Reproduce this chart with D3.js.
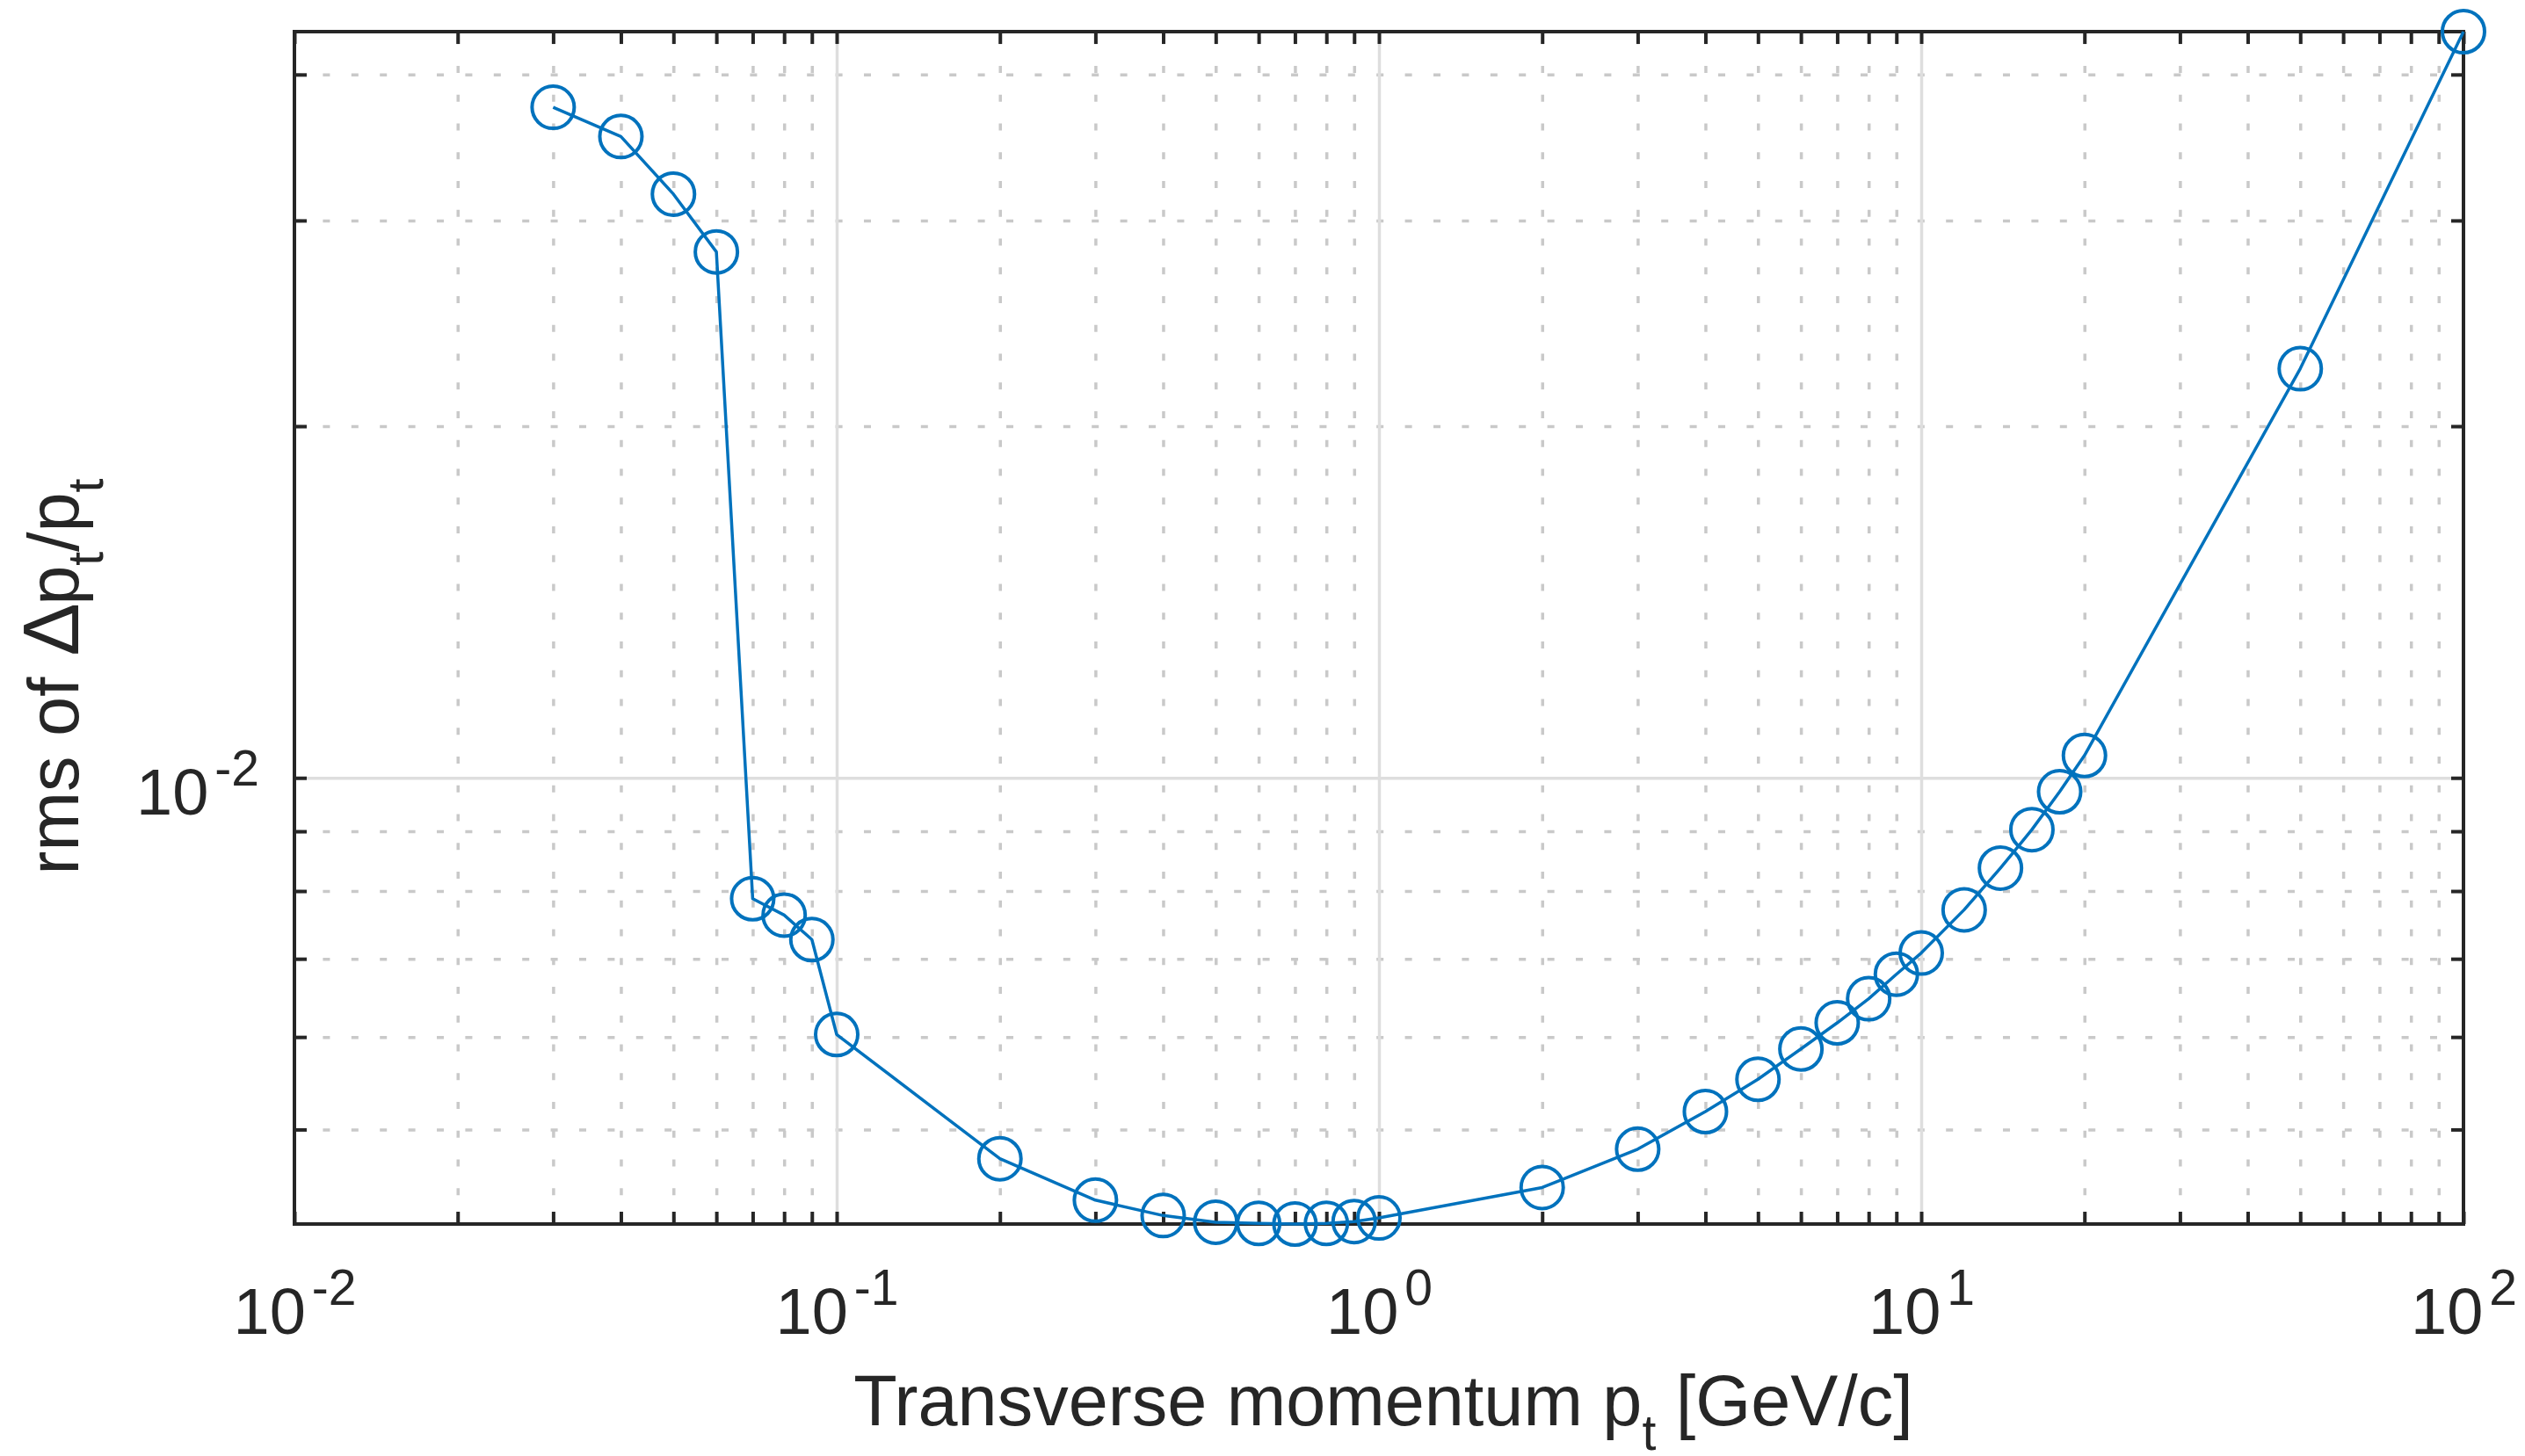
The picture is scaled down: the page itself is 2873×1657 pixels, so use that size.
<!DOCTYPE html>
<html>
<head>
<meta charset="utf-8">
<script src="https://cdn.jsdelivr.net/npm/d3@7"></script>
<style>
  html, body { margin: 0; padding: 0; background: #ffffff; }
  svg { display: block; }
  text { font-family: "Liberation Sans", Arial, Helvetica, sans-serif; fill: #262626; }
</style>
</head>
<body>
<svg id="chart" width="2873" height="1657"></svg>
<script>
// ---- data ----
const ptValues = [0.03, 0.04, 0.05, 0.06, 0.07, 0.08, 0.09, 0.1, 0.2, 0.3, 0.4, 0.5, 0.6, 0.7, 0.8, 0.9, 1,
                  2, 3, 4, 5, 6, 7, 8, 9, 10, 12, 14, 16, 18, 20, 50, 100];
const rmsValues = [0.0375, 0.0354, 0.0316, 0.0282, 0.00788, 0.00763, 0.00727, 0.00603, 0.00472, 0.00435,
                   0.00422, 0.004165, 0.004155, 0.00415, 0.004155, 0.00417, 0.0042,
                   0.00446, 0.00481, 0.00518, 0.00552, 0.00586, 0.00617, 0.00647, 0.00679, 0.00708,
                   0.00771, 0.00837, 0.00903, 0.00973, 0.01045, 0.0224, 0.04353];
const xDomain = [0.01, 100];
const xMajorTicks = [0.01, 0.1, 1, 10, 100];
const xTickExponents = ["-2", "-1", "0", "1", "2"];
const yMajorTicks = [0.01];
const yTickExponents = ["-2"];
const xLabelParts = [["Transverse momentum p", ""], ["t", "sub"], [" [GeV/c]", ""]];
const yLabelParts = [["rms of ", ""], ["\u2206", "big"], ["p", ""], ["t", "sub"], ["/p", ""], ["t", "sub"]];

// ---- layout ----
const L = 335, R = 2803, T = 36, B = 1393;
const W = R - L, H = B - T;
const axisColor = "#262626";
const lineColor = "#0072BD";
const tickFont = 74, supFont = 57, labelFont = 81, subFont = 57, bigFont = 90;

const svg = d3.select("#chart");

const x = d3.scaleLog().domain(xDomain).range([L, R]);
const y = d3.scaleLog().domain(d3.extent(rmsValues)).range([B, T]);

// minor tick values from the scales
function minorLog(domain) {
  const out = [];
  const lo = Math.floor(Math.log10(domain[0])), hi = Math.ceil(Math.log10(domain[1]));
  for (let e = lo; e <= hi; e++) {
    for (let k = 2; k <= 9; k++) {
      const v = k * Math.pow(10, e);
      if (v >= domain[0] * 0.9999 && v <= domain[1] * 1.0001) out.push(+v.toPrecision(6));
    }
  }
  return out;
}
const xMinor = minorLog(x.domain());
const yMinor = minorLog(y.domain());
const xMajorIn = xMajorTicks.filter(v => v > xDomain[0] && v < xDomain[1]);
const yMajorIn = yMajorTicks.filter(v => v > y.domain()[0] && v < y.domain()[1]);

// ---- grid ----
const gridG = svg.append("g");
function styleGrid(g, color, dash) {
  g.select(".domain").remove();
  g.selectAll(".tick text").remove();
  g.selectAll(".tick line").attr("stroke", color).attr("stroke-width", 3.5)
    .attr("stroke-dasharray", dash);
}
gridG.append("g").attr("transform", `translate(0,${B})`)
  .call(d3.axisBottom(x).tickValues(xMinor).tickSize(-H).tickFormat(""))
  .call(g => styleGrid(g, "#c9c9c9", "8 24.75"));
gridG.append("g").attr("transform", `translate(${L},0)`)
  .call(d3.axisLeft(y).tickValues(yMinor).tickSize(-W).tickFormat(""))
  .call(g => styleGrid(g, "#c9c9c9", "8 24.4"))
  .call(g => g.selectAll(".tick line").attr("x1", 0).attr("x2", W));
gridG.append("g").attr("transform", `translate(0,${B})`)
  .call(d3.axisBottom(x).tickValues(xMajorIn).tickSize(-H).tickFormat(""))
  .call(g => styleGrid(g, "#dedede", null));
gridG.append("g").attr("transform", `translate(${L},0)`)
  .call(d3.axisLeft(y).tickValues(yMajorIn).tickSize(-W).tickFormat(""))
  .call(g => styleGrid(g, "#dedede", null));

// ---- ticks (inside, on all four sides) ----
const tickLen = 14;
function styleTicks(g) {
  g.select(".domain").remove();
  g.selectAll(".tick text").remove();
  g.selectAll(".tick line").attr("stroke", axisColor).attr("stroke-width", 4);
}
const xAllTicks = xMajorTicks.concat(xMinor);
const yAllTicks = yMajorIn.concat(yMinor);
svg.append("g").attr("transform", `translate(0,${B})`)
  .call(d3.axisBottom(x).tickValues(xAllTicks).tickSize(-tickLen).tickFormat("")).call(styleTicks);
svg.append("g").attr("transform", `translate(0,${T})`)
  .call(d3.axisTop(x).tickValues(xAllTicks).tickSize(-tickLen).tickFormat("")).call(styleTicks);
svg.append("g").attr("transform", `translate(${L},0)`)
  .call(d3.axisLeft(y).tickValues(yAllTicks).tickSize(-tickLen).tickFormat("")).call(styleTicks);
svg.append("g").attr("transform", `translate(${R},0)`)
  .call(d3.axisRight(y).tickValues(yAllTicks).tickSize(-tickLen).tickFormat("")).call(styleTicks);

// box
svg.append("rect").attr("x", L).attr("y", T).attr("width", W).attr("height", H)
  .attr("fill", "none").attr("stroke", axisColor).attr("stroke-width", 4);

// ---- tick labels ----
const xLab = svg.append("g").attr("transform", `translate(0,${B})`)
  .call(d3.axisBottom(x).tickValues(xMajorTicks).tickSize(0).tickPadding(0).tickFormat(""));
xLab.select(".domain").remove();
xLab.selectAll(".tick text").each(function(d, i) {
  const t = d3.select(this).attr("y", 125).attr("dy", null).attr("text-anchor", "middle")
    .attr("fill", axisColor);
  t.append("tspan").attr("font-size", tickFont).text("10");
  t.append("tspan").attr("font-size", supFont).attr("dx", 7).attr("dy", -33).text(xTickExponents[i]);
});

const yLab = svg.append("g").attr("transform", `translate(${L},0)`)
  .call(d3.axisLeft(y).tickValues(yMajorTicks).tickSize(0).tickPadding(0).tickFormat(""));
yLab.select(".domain").remove();
yLab.selectAll(".tick text").each(function(d, i) {
  const t = d3.select(this).attr("x", -40).attr("dy", null).attr("y", 41).attr("text-anchor", "end")
    .attr("fill", axisColor);
  t.append("tspan").attr("font-size", tickFont).text("10");
  t.append("tspan").attr("font-size", supFont).attr("dx", 7).attr("dy", -33).text(yTickExponents[i]);
});

// ---- axis labels ----
function richText(sel, parts) {
  let shifted = 0;
  parts.forEach(([s, kind]) => {
    const ts = sel.append("tspan").text(s);
    if (kind === "sub") {
      ts.attr("font-size", subFont).attr("dy", 28 - shifted);
      shifted = 28;
    } else {
      ts.attr("font-size", kind === "big" ? bigFont : labelFont).attr("dy", -shifted);
      if (kind === "big") ts.attr("dx", 4);
      shifted = 0;
    }
  });
}
const xl = svg.append("text").attr("x", (L + R) / 2 + 5).attr("y", 1622).attr("text-anchor", "middle");
richText(xl, xLabelParts);

const yl = svg.append("text").attr("transform", `translate(89,${770}) rotate(-90)`)
  .attr("text-anchor", "middle");
richText(yl, yLabelParts);

// ---- data ----
const pts = ptValues.map((v, i) => [v, rmsValues[i]]);
svg.append("path").datum(pts)
  .attr("fill", "none").attr("stroke", lineColor).attr("stroke-width", 3.5)
  .attr("stroke-linejoin", "round")
  .attr("d", d3.line().x(d => x(d[0])).y(d => y(d[1])));
svg.append("g").selectAll("circle").data(pts).join("circle")
  .attr("cx", d => x(d[0])).attr("cy", d => y(d[1])).attr("r", 24)
  .attr("fill", "none").attr("stroke", lineColor).attr("stroke-width", 4);
</script>
</body>
</html>
